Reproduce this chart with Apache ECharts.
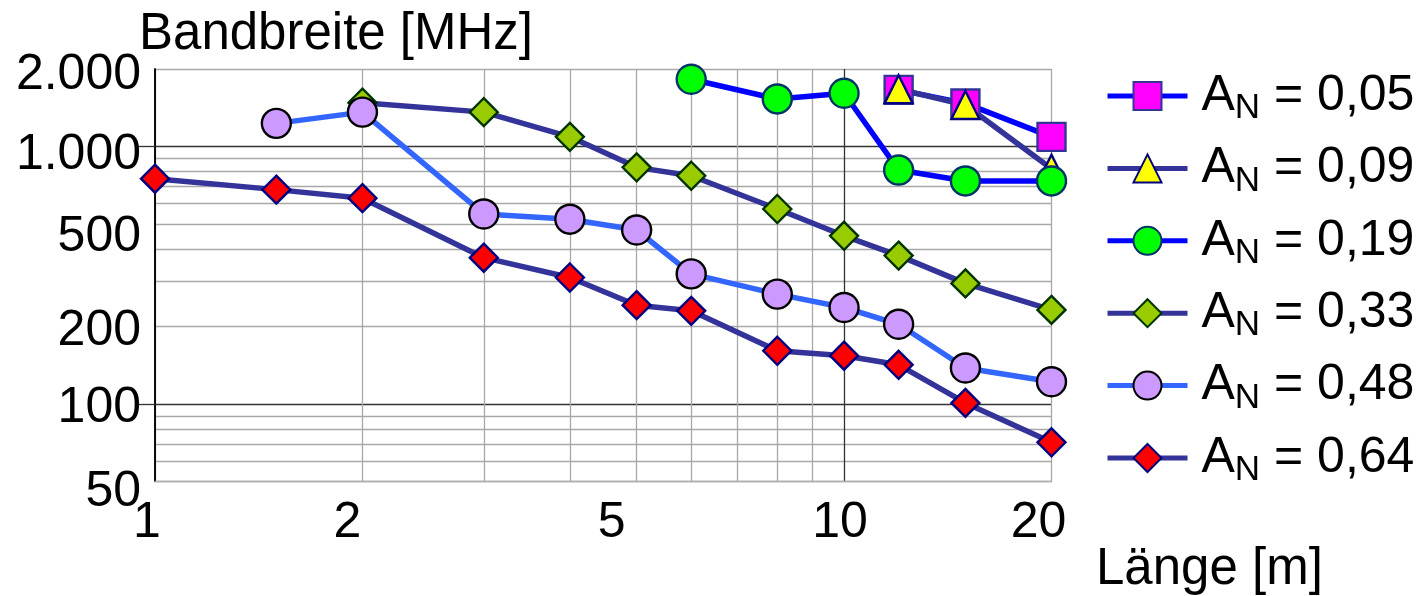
<!DOCTYPE html>
<html><head><meta charset="utf-8">
<script src="https://cdn.jsdelivr.net/npm/echarts@6/dist/echarts.min.js"></script>
<style>html,body{margin:0;padding:0;background:#fff}#c{width:1428px;height:596px}</style>
</head><body><div id="c"></div>
<script>
// ---- data ----
const LENGTHS = [1, 1.5, 2, 3, 4, 5, 6, 8, 10, 12, 15, 20];
const AN_NAMES = ['0,05', '0,09', '0,19', '0,33', '0,48', '0,64'];
const BW_005 = [null, null, null, null, null, null, null, null, null, 1660, 1470, 1090];
const BW_009 = [null, null, null, null, null, null, null, null, null, 1670, 1450, 820];
const BW_019 = [null, null, null, null, null, null, 1825, 1530, 1610, 810, 735, 735];
const BW_033 = [null, null, 1480, 1360, 1090, 830, 770, 572, 450, 377, 294, 232];
const BW_048 = [null, 1230, 1360, 547, 522, 474, 320, 267, 237, 204, 138, 122];
const BW_064 = [750, 680, 630, 370, 310, 242, 230, 161, 154, 142, 101, 71];
const X_TICKS = [1, 2, 5, 10, 20];
const X_TICK_LABELS = ['1', '2', '5', '10', '20'];
const Y_TICKS = [50, 100, 200, 500, 1000, 2000];
const Y_TICK_LABELS = ['50', '100', '200', '500', '1.000', '2.000'];
const X_GRID = [1, 2, 3, 4, 5, 6, 7, 8, 9, 10, 20];
const Y_GRID = [50, 60, 70, 80, 90, 100, 200, 300, 400, 500, 600, 700, 800, 900, 1000, 2000];
const MAJOR = [10, 100, 1000];

const FONT = "'Liberation Sans', Arial, sans-serif";
function pairs(vals) {
  const out = [];
  vals.forEach((v, i) => { if (v != null) out.push([LENGTHS[i], v]); });
  return out;
}
const STYLES = [
  { data: BW_005, line: '#0000ff', symbol: 'rect', fill: '#ff00ff', border: '#333399', size: 28 },
  { data: BW_009, line: '#333399', symbol: 'triangle', fill: '#ffff00', border: '#000080', size: 28 },
  { data: BW_019, line: '#0000ff', symbol: 'circle', fill: '#00ff00', border: '#003366', size: 29 },
  { data: BW_033, line: '#333399', symbol: 'diamond', fill: '#99cc00', border: '#003300', size: 28 },
  { data: BW_048, line: '#3366ff', symbol: 'circle', fill: '#cc99ff', border: '#000000', size: 29 },
  { data: BW_064, line: '#333399', symbol: 'diamond', fill: '#ff0000', border: '#000080', size: 28 }
];
// label nudges (px) to follow the reference's slightly irregular label placement
const X_OFF = [-8, -15, -25, -4, -13];
const Y_OFF = [11, 4, 5, 13, 9, 6];
const xRich = {}, yRich = {};
X_OFF.forEach((o, i) => {
  xRich['x' + i] = { fontSize: 50, fontFamily: FONT, color: '#000', padding: o < 0 ? [0, -2 * o, 0, 0] : [0, 0, 0, 2 * o] };
});
Y_OFF.forEach((o, i) => {
  yRich['y' + i] = { fontSize: 50, fontFamily: FONT, color: '#000', padding: [2 * o, 0, 0, 0] };
});

const series = STYLES.map((s, i) => ({
  name: AN_NAMES[i],
  type: 'line',
  data: pairs(s.data),
  symbol: s.symbol,
  symbolSize: s.size,
  showAllSymbol: true,
  lineStyle: { color: s.line, width: 5.5 },
  itemStyle: { color: s.fill, borderColor: s.border, borderWidth: 2.4 },
  emphasis: { disabled: true },
  animation: false,
  z: 3
}));

const chart = echarts.init(document.getElementById('c'), null, { renderer: 'canvas' });
chart.setOption({
  animation: false,
  backgroundColor: '#fff',
  textStyle: { fontFamily: FONT },
  title: [
    { text: 'Bandbreite [MHz]', left: 139, top: 9, padding: 0,
      textStyle: { fontSize: 51, fontWeight: 'normal', fontFamily: FONT, color: '#000' } },
    { text: 'Länge [m]', left: 1096, top: 544, padding: 0,
      textStyle: { fontSize: 51, fontWeight: 'normal', fontFamily: FONT, color: '#000' } }
  ],
  grid: { left: 155, top: 69, right: 376.5, bottom: 114.5, containLabel: false },
  legend: {
    orient: 'vertical', left: 1105, top: 71, itemWidth: 80, itemHeight: 35, itemGap: 17.4,
    padding: 0,
    data: AN_NAMES,
    lineStyle: { width: 5 },
    formatter: name => '{a0|A}{n|N}{a| = ' + name + '}',
    textStyle: {
      fontFamily: FONT, color: '#000',
      rich: {
        a0: { fontSize: 50, fontFamily: FONT, color: '#000', lineHeight: 60, padding: [0, 0, 0, 9] },
        a: { fontSize: 50, fontFamily: FONT, color: '#000', lineHeight: 60 },
        n: { fontSize: 35, fontFamily: FONT, color: '#000', lineHeight: 32, verticalAlign: 'bottom' }
      }
    },
    selectedMode: false
  },
  xAxis: {
    type: 'log', logBase: 10, min: 1, max: 20,
    axisLine: { show: true, lineStyle: { color: '#b0b0b0', width: 1.3 } },
    axisTick: { show: false, customValues: X_GRID },
    splitLine: { show: true, lineStyle: { color: X_GRID.map(v => MAJOR.includes(v) ? '#333' : '#a8a8a8'), width: 1.3 } },
    axisLabel: {
      customValues: X_TICKS, margin: 17, fontSize: 50, color: '#000', fontFamily: FONT,
      formatter: (v) => { const i = X_TICKS.findIndex(t => Math.abs(t - v) < 1e-6 * t); return i < 0 ? '' : '{x' + i + '|' + X_TICK_LABELS[i] + '}'; },
      rich: xRich
    }
  },
  yAxis: [{
    type: 'log', logBase: 10, min: 50, max: 2000,
    axisLine: { show: true, lineStyle: { color: '#000', width: 1.5 } },
    axisTick: { show: false, customValues: Y_GRID },
    splitLine: { show: true, lineStyle: { color: Y_GRID.map(v => MAJOR.includes(v) ? '#333' : '#a8a8a8'), width: 1.3 } },
    axisLabel: {
      customValues: Y_TICKS, margin: 14, fontSize: 50, color: '#000', fontFamily: FONT,
      formatter: (v) => { const i = Y_TICKS.findIndex(t => Math.abs(t - v) < 1e-6 * t); return i < 0 ? '' : '{y' + i + '|' + Y_TICK_LABELS[i] + '}'; },
      rich: yRich
    }
  }, {
    type: 'log', logBase: 10, min: 50, max: 2000, position: 'left',
    axisLine: { show: true, lineStyle: { color: '#000', width: 1.5 } },
    axisTick: { show: true, customValues: [100, 1000], length: 17, lineStyle: { color: '#333', width: 1.3 } },
    splitLine: { show: false },
    axisLabel: { show: false }
  }],
  series: series
});
</script></body></html>
